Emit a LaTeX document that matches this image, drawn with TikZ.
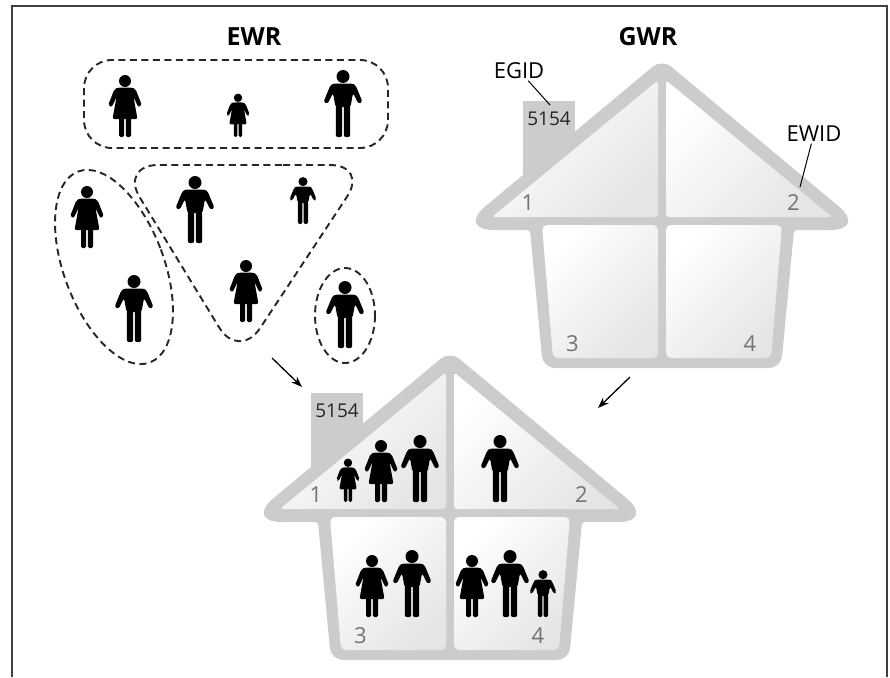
\documentclass[tikz,border=0pt]{standalone}
\usepackage{fontspec}
\setmainfont{Open Sans}
\usetikzlibrary{arrows.meta}

\tikzset{
  % pictograms, feet at the origin
  man/.pic={
    \fill (0,-60.5) circle (6.5);
    \fill[rounded corners=2.5] (-9,-53.5) -- (-12.5,-52) -- (-19.5,-35) -- (-15.5,-33) -- (-10,-44)
      -- (-7.5,-30) -- (7.5,-30) -- (10,-44) -- (15.5,-33) -- (19.5,-35) -- (12.5,-52) -- (9,-53.5) -- cycle;
    \fill[rounded corners=2] (-7.2,-33) rectangle (-0.8,0);
    \fill[rounded corners=2] (0.8,-33) rectangle (7.2,0);
  },
  woman/.pic={
    \fill (0,-56) circle (6);
    \fill[rounded corners=2] (-7,-49.5) -- (-10.5,-48) -- (-17,-31.5) -- (-13.3,-29.8) -- (-8.5,-40)
      -- (-12.5,-18) -- (12.5,-18) -- (8.5,-40) -- (13.3,-29.8) -- (17,-31.5) -- (10.5,-48) -- (7,-49.5) -- cycle;
    \fill[rounded corners=1.5] (-6,-19.5) rectangle (-0.9,0);
    \fill[rounded corners=1.5] (0.9,-19.5) rectangle (6,0);
  },
  % building with four flats, origin on the eaves line below the ridge
  house/.pic={
    \fill[wall] (-139,-116) rectangle (-87,-40);
    \fill[wall] (0,151) [rounded corners=12] -- (-119,151) [rounded corners=3] -- (-132,13)
      [rounded corners=37] -- (-205,13) [rounded corners=12] -- (0,-158) [rounded corners=37] -- (205,13)
      [rounded corners=3] -- (132,13) [rounded corners=12] -- (119,151) -- cycle;
    \path[panel] (-170,0) -- (-4,-136.7) -- (-4,0) -- cycle;
    \path[panel] (170,0) -- (4,-136.7) -- (4,0) -- cycle;
    \path[panel, rounded corners=5] (-120,8) -- (-4,8) -- (-4,141) -- (-109,141) -- cycle;
    \path[panel, rounded corners=5] (120,8) -- (4,8) -- (4,141) -- (109,141) -- cycle;
    \node[idnum] (-id) at (-113,-98.5) {5154};
    \node[room] (-one) at (-134,-14.5) {1};
    \node[room] (-two) at (131.5,-14.5) {2};
    \node[room] (-three) at (-89.5,126.5) {3};
    \node[room] (-four) at (88,126.5) {4};
    \coordinate (-stack) at (-112,-112);
    \coordinate (-eave) at (138,-30);
  }
}

\begin{document}
\begin{tikzpicture}[
    x=1pt, y=-1pt,
    wall/.style={fill=black!20},
    panel/.style={rounded corners=3, top color=white, bottom color=black!10, shading angle=45},
    room/.style={text=black!55, font=\fontsize{22}{26}\selectfont},
    idnum/.style={text=black!85, font=\fontsize{19}{22}\selectfont},
    title/.style={font=\fontsize{25}{30}\selectfont\bfseries},
    tag/.style={inner sep=2pt, font=\fontsize{22}{26}\selectfont},
    group/.style={draw=black!85, line width=1.9pt, dash pattern=on 7pt off 4.5pt},
    leader/.style={draw, line width=1pt},
    flow/.style={draw, line width=1.3pt, -{Stealth[length=11pt, width=8pt]}},
    kid/.style={scale=0.7}
  ]

  \useasboundingbox (0,0) rectangle (890,677);
  \draw[black!75, line width=1.5pt] (12,677) -- (12,6) -- (887,6) -- (887,677);

  % ==================== REGISTERS ====================

  \node[title] (ewr) at (254,37) {EWR};
  \node[title] (gwr) at (648,37) {GWR};

  % ==================== PERSONS ====================

  % households drawn as dashed groups
  \draw[group, rounded corners=28] (84,60) rectangle (388,148);
  \draw[group, rotate around={20.6:(114,267)}] (114,267) ellipse [x radius=50, y radius=102];
  \draw[group, rounded corners=38] (245,165) -- (368,165) -- (239,360) -- (120,165) -- cycle;
  \draw[group] (345,315.5) ellipse [x radius=30, y radius=47.5];

  \pic at (125,137) {woman};
  \pic[kid] at (238,137) {woman};
  \pic at (343,137) {man};

  \pic at (87,248) {woman};
  \pic at (134,342) {man};

  \pic at (195,243) {man};
  \pic[kid] at (303,224) {man};
  \pic at (246,322) {woman};

  \pic at (345,348) {man};

  % ==================== BUILDINGS ====================

  \pic (building) at (662,217) {house};
  \pic (dwelling) at (450,509) {house};

  \node[tag] (egid) at (519,70.5) {EGID};
  \node[tag] (ewid) at (814,133.5) {EWID};
  \draw[leader] (egid) -- (building-stack);
  \draw[leader] (ewid) -- (building-eave);

  % flats with their residents
  \pic[kid] at (348,502) {woman};
  \pic at (381,502) {woman};
  \pic at (420,502) {man};
  \pic at (500,502) {man};
  \pic at (372,617) {woman};
  \pic at (412,617) {man};
  \pic at (472,617) {woman};
  \pic at (510,617) {man};
  \pic[kid] at (543,617) {man};

  % ==================== LINKAGE ====================

  \coordinate (persons-out) at (272,358);
  \coordinate (persons-in) at (302,387);
  \coordinate (flats-out) at (630,377);
  \coordinate (flats-in) at (598,408);
  \draw[flow] (persons-out) -- (persons-in);
  \draw[flow] (flats-out) -- (flats-in);

\end{tikzpicture}
\end{document}
